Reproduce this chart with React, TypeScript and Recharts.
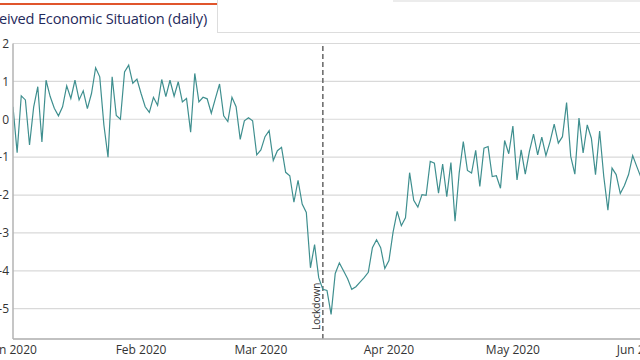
import { LineChart, Line, XAxis, YAxis, CartesianGrid, ReferenceLine } from 'recharts'

// daily index values, starting 1 Jan 2020
const sentiment = [
  0.33, -0.88, 0.62, 0.51, -0.68, 0.32, 0.86, -0.6, 1.03, 0.6,
  0.29, 0.09, 0.33, 0.88, 0.55, 1.03, 0.51, 0.75, 0.28, 0.68,
  1.36, 1.12, -0.15, -1.0, 1.12, 0.1, 0.0, 1.25, 1.43, 0.95,
  1.06, 0.68, 0.33, 0.18, 0.58, 0.37, 1.05, 0.6, 1.03, 0.61,
  0.99, 0.46, 0.55, -0.34, 1.21, 0.46, 0.58, 0.54, 0.16, 0.55,
  0.93, 0.09, -0.06, 0.58, 0.33, -0.53, -0.04, 0.04, -0.04, -0.94,
  -0.81, -0.46, -0.3, -1.09, -0.83, -0.74, -1.4, -1.49, -2.19, -1.61,
  -2.24, -2.46, -3.92, -3.31, -4.18, -4.49, -4.52, -5.15, -4.07, -3.79,
  -4.0, -4.21, -4.49, -4.42, -4.3, -4.18, -4.04, -3.39, -3.18, -3.39,
  -3.94, -3.73, -2.98, -2.43, -2.81, -2.6, -1.41, -2.14, -2.32, -1.99,
  -2.01, -1.11, -1.16, -1.95, -1.18, -2.04, -1.14, -2.69, -1.42, -0.59,
  -1.35, -1.42, -0.82, -1.77, -0.76, -0.72, -1.51, -1.49, -1.82, -0.56,
  -0.91, -0.18, -1.6, -0.81, -1.45, -0.85, -0.39, -0.94, -0.47, -0.96,
  -0.59, -0.13, -0.63, -0.46, 0.44, -0.98, -1.45, 0.03, -0.89, -0.15,
  -0.5, -1.46, -0.31, -1.51, -2.4, -1.29, -1.46, -1.96, -1.75, -1.46,
  -0.96, -1.25, -1.53,
]

const monthTicks = [0, 31, 60, 91, 121, 152]
const monthLabels = ['Jan 2020', 'Feb 2020', 'Mar 2020', 'Apr 2020', 'May 2020', 'Jun 2020']
const valueTicks = [-5, -4, -3, -2, -1, 0, 1, 2]
const lockdownDay = 75
const lockdownLabel = 'Lockdown'
const title = 'Perceived Economic Situation (daily)'

const data = sentiment.map((value, day) => ({ day, value }))

const font = '"Open Sans", "Noto Sans", sans-serif'

const LockdownLabel = ({ viewBox }: any) => {
  if (!viewBox) return null
  const x = viewBox.x - 2.5
  const y = viewBox.y + viewBox.height - 9
  return (
    <text
      x={x}
      y={y}
      transform={`rotate(-90 ${x} ${y})`}
      fontSize={10}
      fill="#333"
      fontFamily={font}
    >
      {lockdownLabel}
    </text>
  )
}

export default function App() {
  return (
    <div style={{ position: 'absolute', left: 0, top: 0, width: 640, height: 360, overflow: 'hidden', background: '#fff' }}>
      {/* tab bar */}
      <div style={{ position: 'absolute', left: 0, top: 3, width: 217, height: 2, background: '#e0552c' }} />
      <div style={{ position: 'absolute', left: 0, top: 0, width: 217, height: 34, overflow: 'hidden' }}>
        <span
          style={{
            position: 'absolute',
            right: 10,
            top: 8,
            whiteSpace: 'nowrap',
            fontFamily: font,
            fontSize: 14.6,
            letterSpacing: -0.2,
            color: '#1f2a5c',
          }}
        >
          {title}
        </span>
      </div>
      <div style={{ position: 'absolute', left: 217, top: 0, width: 430, height: 33, borderLeft: '1px solid #ddd', borderBottom: '1px solid #ddd', boxSizing: 'border-box' }} />
      <div style={{ position: 'absolute', left: 393, top: 0, width: 250, height: 2, background: '#ececec' }} />

      <div style={{ position: 'absolute', left: 0, top: 0 }}>
        <LineChart width={674} height={360} data={data} margin={{ top: 43.5, right: 0, left: 0, bottom: 0 }}>
          <CartesianGrid vertical={false} stroke="#d9d9d9" strokeWidth={1.2} />
          <XAxis
            dataKey="day"
            type="number"
            domain={[0, 160]}
            ticks={monthTicks}
            tickFormatter={(d: number) => monthLabels[monthTicks.indexOf(d)]}
            height={21}
            tickLine={false}
            tickSize={3}
            tickMargin={3}
            axisLine={{ stroke: '#b3b3b3', strokeWidth: 1.5 }}
            tick={{ fill: '#333', fontSize: 12, fontFamily: font }}
            interval={0}
            allowDataOverflow
          />
          <YAxis
            type="number"
            domain={[-5.8, 2]}
            ticks={valueTicks}
            width={13}
            tickLine={false}
            tickSize={2}
            tickMargin={2}
            axisLine={{ stroke: '#b3b3b3', strokeWidth: 1.5 }}
            tick={{ fill: '#333', fontSize: 12, fontFamily: font }}
            interval={0}
            allowDataOverflow
          />
          <ReferenceLine
            x={lockdownDay}
            stroke="#666"
            strokeWidth={1.5}
            strokeDasharray="5 3"
            label={<LockdownLabel />}
          />
          <Line
            type="linear"
            dataKey="value"
            stroke="#3f8f8f"
            strokeWidth={1.2}
            dot={false}
            isAnimationActive={false}
          />
        </LineChart>
      </div>
    </div>
  )
}
